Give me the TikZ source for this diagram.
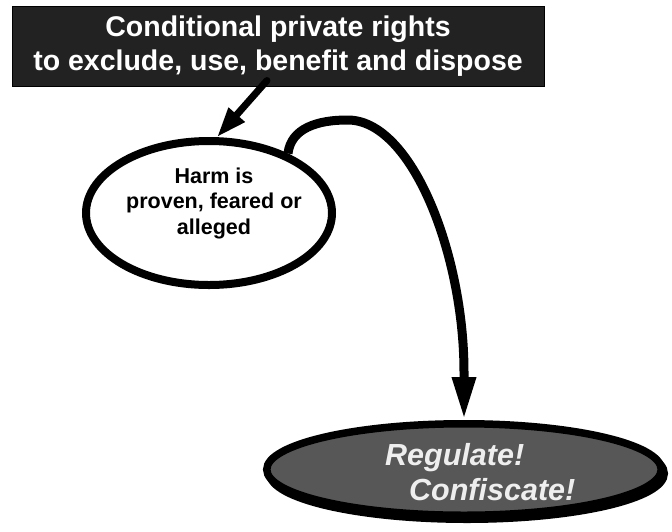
\documentclass[tikz,border=0pt]{standalone}
\usepackage{fontspec}
\setmainfont{Liberation Sans}
\usetikzlibrary{arrows.meta,shapes.geometric}
\definecolor{boxfill}{HTML}{222222}
\definecolor{regfill}{HTML}{575757}
\definecolor{regtext}{HTML}{EEEEEE}
\begin{document}
\begin{tikzpicture}[x=1pt,y=-1pt,
  topbox/.style={fill=boxfill,draw=black,line width=1pt,text=white,
    font=\bfseries\fontsize{28.5}{34}\selectfont,align=center,
    minimum width=532pt,minimum height=80pt,inner sep=0pt},
  harmell/.style={ellipse,draw=black,line width=8pt,fill=white,
    minimum width=246pt,minimum height=144pt,inner sep=0pt},
  harmtxt/.style={font=\bfseries\fontsize{21.5}{25.5}\selectfont,align=center,inner sep=0pt},
  regell/.style={ellipse,draw=black,line width=7.5pt,fill=regfill,
    minimum width=394.5pt,minimum height=91.5pt,inner sep=0pt},
  regtxt/.style={font=\bfseries\itshape\fontsize{30.5}{35}\selectfont,text=regtext,
    align=left,inner sep=0pt},
  smallarrow/.style={line width=7pt,line cap=round,-{Triangle[length=30pt,width=20pt]}},
  bigarrow/.style={line width=9pt,-{Triangle[length=43pt,width=22pt]}}
]
\useasboundingbox (0,0) rectangle (672,531);
% top box
\node[topbox] (rights) at (278,46) {Conditional private rights\\to exclude, use, benefit and dispose};
% harm ellipse
\node[harmell] (harm) at (209,213) {};
\node[harmtxt] (harmtext) at (214,203) {Harm is\\proven, feared or\\alleged};
% regulate ellipse with shadow
\draw[line width=7.5pt,fill=black] (467,473.5) ellipse [x radius=197.25, y radius=45.75];
\node[regell] (reg) at (464,469.5) {};
\node[regtxt,anchor=north west] (regtext) at (385,443.2) {Regulate!\\\hspace*{24pt}Confiscate!};
% connectors
\draw[smallarrow] ([shift={(-11,-6)}]rights.south) -- (harm.84);
\draw[bigarrow] (harm.37) .. controls (291,128) and (318,120) .. (347,120)
  .. controls (412,119) and (464,255) .. (464,372) -- (reg.north);
\end{tikzpicture}
\end{document}
